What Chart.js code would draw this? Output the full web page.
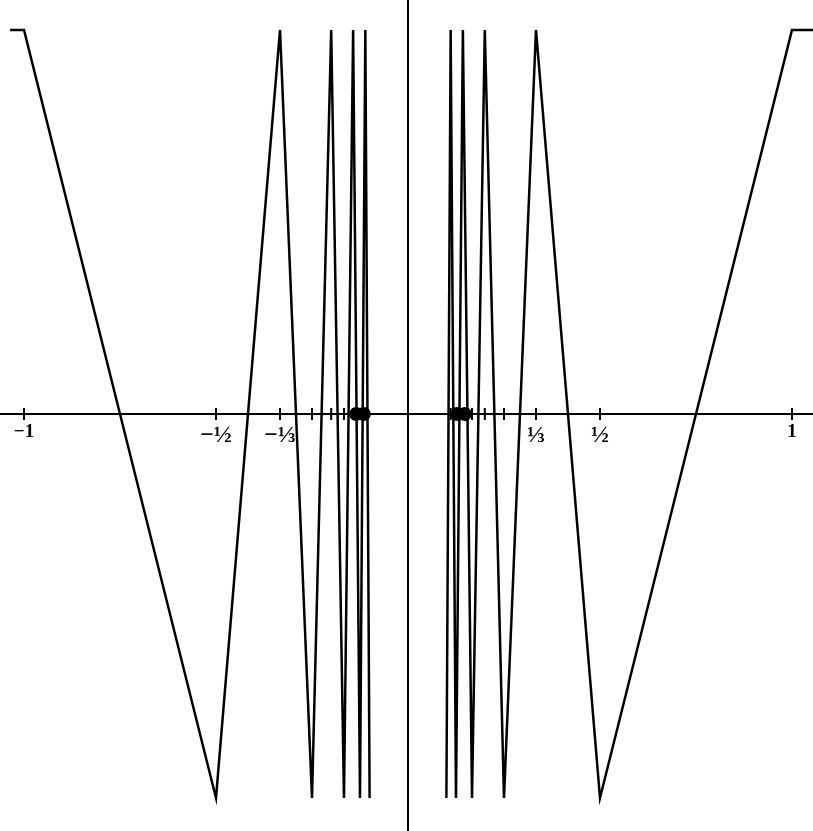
<!DOCTYPE html>
<html>
<head>
<meta charset="utf-8">
<script src="https://cdn.jsdelivr.net/npm/chart.js@4/dist/chart.umd.min.js"></script>
<style>
  body { margin: 0; background: #fff; }
  #wrap { width: 813px; height: 831px; }
</style>
</head>
<body>
<div id="wrap"><canvas id="zigzag" width="813" height="831"></canvas></div>
<script>
// left branch: x = -1 ... -1/10, corners alternate between +1 and -1
const leftX = [-1.036, -1, -0.5, -0.3333, -0.25, -0.2, -0.1667, -0.1429, -0.125, -0.1111, -0.1];
const leftY = [1, 1, -1, 1, -1, 1, -1, 1, -1, 1, -1];

// right branch: x = 1/10 ... 1
const rightX = [0.1, 0.1111, 0.125, 0.1429, 0.1667, 0.2, 0.25, 0.3333, 0.5, 1, 1.06];
const rightY = [-1, 1, -1, 1, -1, 1, -1, 1, -1, 1, 1];

// small marks on the x axis at 1/n
const tickX = [-1, -0.5, -0.3333, -0.25, -0.2, -0.1667, -0.1429, -0.125, -0.1111,
               0.1111, 0.125, 0.1429, 0.1667, 0.2, 0.25, 0.3333, 0.5, 1];

// dark accumulation blobs on the axis
const blobX = [-0.135, -0.115, 0.128, 0.148];

// labelled axis positions
const labelX = [-1, -0.5, -0.3333, 0.3333, 0.5, 1];
const labelText = ["\u22121", "\u2212\u00BD", "\u2212\u2153", "\u2153", "\u00BD", "1"];

const toPoints = (xs, ys) => xs.map((x, i) => ({ x: x, y: ys[i] }));

new Chart(document.getElementById("zigzag").getContext("2d"), {
    type: "scatter",
    data: {
        datasets: [
            {
                type: "line",
                data: toPoints(leftX, leftY),
                borderColor: "#000",
                borderWidth: 2.5,
                pointRadius: 0,
                tension: 0
            },
            {
                type: "line",
                data: toPoints(rightX, rightY),
                borderColor: "#000",
                borderWidth: 2.5,
                pointRadius: 0,
                tension: 0
            },
            {
                data: tickX.map(x => ({ x: x, y: 0 })),
                pointStyle: "line",
                rotation: 90,
                pointRadius: 6,
                pointBorderWidth: 2,
                pointBorderColor: "#000"
            },
            {
                data: blobX.map(x => ({ x: x, y: 0 })),
                pointStyle: "circle",
                pointRadius: 7,
                pointBackgroundColor: "#000",
                pointBorderColor: "#000",
                pointBorderWidth: 0
            }
        ]
    },
    options: {
        responsive: false,
        animation: false,
        devicePixelRatio: 1,
        layout: { padding: 0, autoPadding: false },
        plugins: {
            legend: { display: false },
            tooltip: { enabled: false }
        },
        scales: {
            x: {
                type: "linear",
                min: -1.0625,
                max: 1.0547,
                position: { y: 0 },
                grid: { display: false, drawTicks: false },
                border: { display: true, color: "#000", width: 2 },
                afterBuildTicks: scale => {
                    scale.ticks = labelX.map(v => ({ value: v }));
                },
                ticks: {
                    autoSkip: false,
                    maxRotation: 0,
                    padding: 7,
                    color: "#000",
                    font: ctx => ({
                        family: "'Liberation Serif', 'DejaVu Serif', serif",
                        size: ctx.tick && Math.abs(ctx.tick.value) !== 1 ? 24 : 19,
                        weight: "bold"
                    }),
                    callback: (value, index) => labelText[index]
                }
            },
            y: {
                type: "linear",
                min: -1.086,
                max: 1.078,
                position: { x: 0 },
                grid: { display: false, drawTicks: false },
                border: { display: true, color: "#000", width: 2 },
                ticks: { display: false }
            }
        }
    }
});
</script>
</body>
</html>
